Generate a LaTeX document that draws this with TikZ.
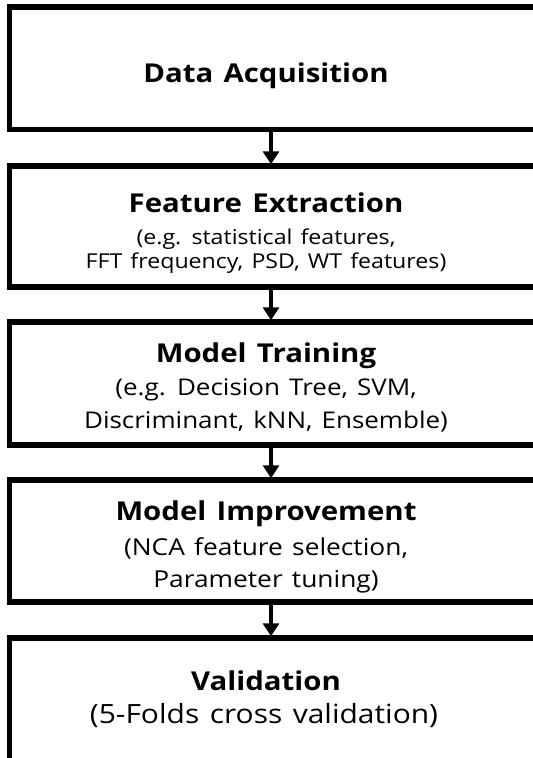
\documentclass[tikz,border=0pt]{standalone}
\usepackage{fontspec}
\setmainfont{Open Sans}[FakeStretch=1.13, WordSpace=1.35]
\usetikzlibrary{arrows.meta}

\tikzset{
  stagebox/.style={draw=black, line width=5.5pt, rectangle, inner sep=0pt,
                   minimum width=528.5pt},
  titletext/.style={anchor=base, inner sep=0pt, font=\fontsize{26}{31}\selectfont\bfseries},
  detailtext/.style={anchor=base, inner sep=0pt},
  flow/.style={line width=4.5pt, -{Triangle[width=16pt,length=13pt]}, shorten >=-1pt}
}

\begin{document}
\begin{tikzpicture}[x=1pt, y=-1pt]
  \useasboundingbox (0,0) rectangle (533,758);
  \clip (0,0) rectangle (533,758);

  % stage boxes (right side runs past the page edge)
  \node[stagebox, minimum height=122.5pt] (b1) at (273.75, 68.25) {};
  \node[stagebox, minimum height=121pt]   (b2) at (273.75, 226.5) {};
  \node[stagebox, minimum height=123pt]   (b3) at (273.75, 383.5) {};
  \node[stagebox, minimum height=122pt]   (b4) at (273.75, 541) {};
  \node[stagebox, minimum height=162pt]   (b5) at (273.75, 719) {};

  % stage texts
  \node[titletext]  (t1)  at (266, 82)  {Data Acquisition};

  \node[titletext]  (t2)  at (266, 212) {Feature Extraction};
  \begin{scope}[every node/.append style={font=\fontsize{20.5}{25}\selectfont}]
    \node[detailtext] (d2a) at (266, 244) {(e.g. statistical features,};
    \node[detailtext] (d2b) at (266, 268) {FFT frequency, PSD, WT features)};
  \end{scope}

  \node[titletext]  (t3)  at (266, 362) {Model Training};
  \begin{scope}[every node/.append style={font=\fontsize{23}{28}\selectfont}]
    \node[detailtext] (d3a) at (266, 395) {(e.g. Decision Tree, SVM,};
    \node[detailtext] (d3b) at (266, 428) {Discriminant, kNN, Ensemble)};
  \end{scope}

  \node[titletext]  (t4)  at (266, 520) {Model Improvement};
  \begin{scope}[every node/.append style={font=\fontsize{23.3}{28}\selectfont}]
    \node[detailtext] (d4a) at (266, 555) {(NCA feature selection,};
    \node[detailtext] (d4b) at (266, 587) {Parameter tuning)};
  \end{scope}

  \node[titletext]  (t5)  at (266, 690) {Validation};
  \begin{scope}[every node/.append style={font=\fontsize{26.5}{31}\selectfont}]
    \node[detailtext] (d5a) at (264, 723) {(5-Folds cross validation)};
  \end{scope}

  % connectors
  \coordinate (ax) at (271, 0);
  \draw[flow] (b1.south -| ax) -- (b2.north -| ax);
  \draw[flow] (b2.south -| ax) -- (b3.north -| ax);
  \draw[flow] (b3.south -| ax) -- (b4.north -| ax);
  \draw[flow] (b4.south -| ax) -- (b5.north -| ax);
\end{tikzpicture}
\end{document}
